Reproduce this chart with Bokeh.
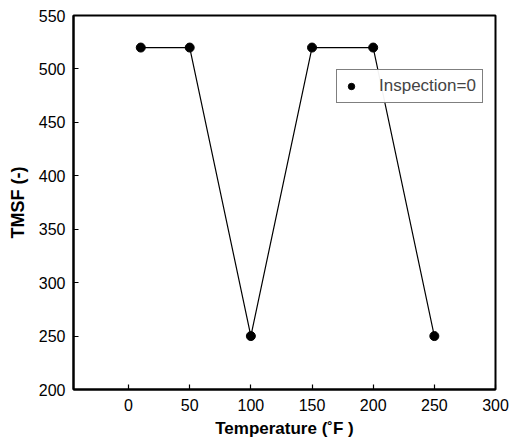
from bokeh.plotting import figure
from bokeh.models import Range1d, FixedTicker, Legend, LegendItem
from bokeh.embed import file_html
from bokeh.resources import INLINE

temperature = [10, 50, 100, 150, 200, 250]
tmsf = [520, 520, 250, 520, 520, 250]
x_ticks = [0, 50, 100, 150, 200, 250, 300]
y_ticks = [200, 250, 300, 350, 400, 450, 500, 550]

p = figure(width=512, height=442, output_backend="svg", toolbar_location=None,
           x_range=Range1d(-45, 300), y_range=Range1d(200, 550),
           min_border_left=73, min_border_right=17, min_border_top=15, min_border_bottom=53)
p.grid.visible = False
p.outline_line_color = "black"
p.outline_line_width = 2
p.background_fill_color = "white"
p.border_fill_color = "white"

p.line(temperature, tmsf, line_color="black", line_width=1.2)
r = p.scatter(temperature, tmsf, size=9, color="black")

for ax, ticks in ((p.xaxis[0], x_ticks), (p.yaxis[0], y_ticks)):
    ax.ticker = FixedTicker(ticks=ticks)
    ax.major_tick_in = 5
    ax.major_tick_out = 0
    ax.minor_tick_line_color = None
    ax.axis_line_width = 2
    ax.major_tick_line_width = 1.2
    ax.major_label_text_font = "Liberation Sans"
    ax.major_label_text_font_size = "16px"
    ax.major_label_text_color = "black"
    ax.axis_label_text_font = "Liberation Sans"
    ax.axis_label_text_font_size = "17px"
    ax.axis_label_text_font_style = "bold"
    ax.axis_label_text_color = "black"

p.yaxis.axis_label_text_font_size = "18px"
p.xaxis.axis_label = "Temperature (˚F )"
p.yaxis.axis_label = "TMSF (-)"
p.xaxis.major_label_standoff = 9
p.yaxis.major_label_standoff = 8
p.xaxis.axis_label_standoff = 5
p.yaxis.axis_label_standoff = 8

legend = Legend(items=[LegendItem(label="Inspection=0", renderers=[r])],
                location=(263, 286))
legend.label_text_font = "Liberation Sans"
legend.label_text_font_size = "17px"
legend.border_line_color = "black"
legend.border_line_width = 1.5
legend.padding = 6
legend.margin = 0
legend.glyph_width = 16
legend.label_standoff = 20
legend.spacing = 0
p.add_layout(legend)

open("out.html", "w").write(file_html(p, INLINE))
